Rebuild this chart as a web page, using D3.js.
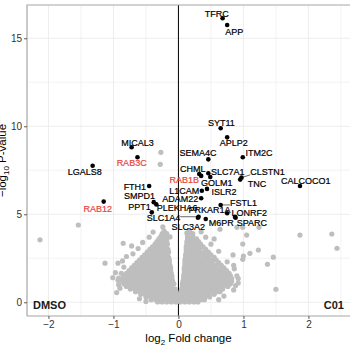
<!DOCTYPE html>
<html><head><meta charset="utf-8">
<script src="https://cdn.jsdelivr.net/npm/d3@7"></script>
<style>body{margin:0;background:#fff}svg{display:block}text{font-family:"Liberation Sans",Arial,sans-serif}</style>
</head><body><svg id="c" width="350" height="350"></svg>
<script>
// ---- data ----
const genes = ["TFRC","APP","SYT11","APLP2","ITM2C","SEMA4C","MICAL3","RAB3C","LGALS8","CHML","SLC7A1","GOLM1","RAB1B","CLSTN1","TNC","CALCOCO1","FTH1","L1CAM","ISLR2","ADAM22","RAB12","SMPD1","PLEKHA6","PPT1","FSTL1","PRKAR1A","LONRF2","SPARC","SLC1A4","M6PR","SLC3A2"];
const log2FC = [0.68,0.75,0.65,0.75,0.99,0.46,-0.72,-0.63,-1.32,0.32,0.46,0.49,0.35,0.97,0.95,1.87,-0.45,0.36,0.44,0.35,-1.15,-0.38,-0.34,-0.41,0.65,0.75,0.87,0.88,0.31,0.42,0.30];
const negLog10P = [16.14,15.75,9.89,9.37,8.24,8.12,8.81,8.24,7.76,7.29,7.33,7.12,7.18,7.08,6.97,6.61,6.61,6.34,6.44,5.91,5.72,5.69,5.56,5.11,5.53,5.06,4.85,4.80,4.86,4.73,4.80];
const highlighted = ["RAB3C","RAB12","RAB1B"];
// label anchor positions (data units, as placed by the repel layout)
const labelX = [0.59,0.86,0.66,0.85,1.24,0.30,-0.63,-0.72,-1.44,0.22,0.76,0.59,0.09,1.37,1.21,1.96,-0.67,0.09,0.70,0.03,-1.24,-0.60,-0.02,-0.60,1.00,0.48,1.09,1.13,-0.23,0.66,0.15];
const labelY = [16.38,15.39,10.17,9.03,8.50,8.47,9.07,7.90,7.39,7.57,7.42,6.80,6.95,7.42,6.70,6.91,6.57,6.34,6.25,5.85,5.32,6.04,5.34,5.40,5.66,5.24,5.09,4.49,4.82,4.49,4.31];
const xTicks = [-2,-1,0,1,2];
const yTicks = [0,5,10,15];
const conditions = ["DMSO","C01"];
// non-significant proteins: dense body of the volcano, one row of log2FC values per -log10 P level
const cloudY = [0.02,0.15,0.3,0.45,0.6,0.75,0.9,1.05,1.2,1.35,1.5,1.65,1.8,1.95,2.1,2.25,2.4,2.55,2.7,2.85,3.0,3.15,3.3,3.45,3.6,3.75,3.9,4.05];
const cloudX = [
 [-0.32,-0.25,-0.18,-0.11,-0.04,0.03,0.10,0.17,0.24,0.30],
 [-0.42,-0.35,-0.28,-0.21,-0.14,-0.07,0.00,0.07,0.14,0.21,0.28,0.35,0.40],
 [-0.50,-0.43,-0.36,-0.29,-0.22,-0.15,-0.08,-0.01,0.06,0.13,0.20,0.27,0.34,0.41,0.48],
 [-0.58,-0.51,-0.44,-0.37,-0.30,-0.23,-0.16,-0.09,-0.02,0.05,0.12,0.19,0.26,0.33,0.40,0.47,0.55],
 [-0.66,-0.59,-0.52,-0.45,-0.38,-0.31,-0.24,-0.17,-0.10,-0.04,0.04,0.10,0.17,0.24,0.31,0.38,0.45,0.52,0.59,0.64],
 [-0.74,-0.67,-0.60,-0.53,-0.46,-0.39,-0.32,-0.25,-0.18,-0.11,-0.05,0.05,0.12,0.19,0.26,0.33,0.40,0.47,0.54,0.61,0.68],
 [-0.80,-0.73,-0.66,-0.59,-0.52,-0.45,-0.38,-0.31,-0.24,-0.17,-0.10,0.06,0.13,0.20,0.27,0.34,0.41,0.48,0.55,0.62,0.69,0.76],
 [-0.84,-0.77,-0.70,-0.63,-0.56,-0.49,-0.42,-0.35,-0.28,-0.21,-0.14,-0.07,0.06,0.13,0.20,0.27,0.34,0.41,0.48,0.55,0.62,0.69,0.76,0.80],
 [-0.86,-0.79,-0.72,-0.65,-0.58,-0.51,-0.44,-0.37,-0.30,-0.23,-0.16,-0.09,0.07,0.14,0.21,0.28,0.35,0.42,0.49,0.56,0.63,0.70,0.77,0.82],
 [-0.86,-0.79,-0.72,-0.65,-0.58,-0.51,-0.44,-0.37,-0.30,-0.23,-0.16,-0.10,0.08,0.15,0.22,0.29,0.36,0.43,0.50,0.57,0.64,0.71,0.78,0.82],
 [-0.84,-0.77,-0.70,-0.63,-0.56,-0.49,-0.42,-0.35,-0.28,-0.21,-0.15,-0.10,0.08,0.14,0.21,0.28,0.35,0.42,0.49,0.56,0.63,0.70,0.77,0.80],
 [-0.80,-0.73,-0.66,-0.59,-0.52,-0.45,-0.38,-0.31,-0.24,-0.17,-0.11,0.09,0.16,0.23,0.30,0.37,0.44,0.51,0.58,0.65,0.72,0.78],
 [-0.76,-0.69,-0.62,-0.55,-0.48,-0.41,-0.34,-0.27,-0.20,-0.12,0.09,0.15,0.22,0.29,0.36,0.43,0.50,0.57,0.64,0.70,0.74],
 [-0.72,-0.65,-0.58,-0.51,-0.44,-0.37,-0.30,-0.23,-0.17,-0.12,0.09,0.16,0.23,0.30,0.37,0.44,0.51,0.58,0.65,0.70],
 [-0.68,-0.61,-0.54,-0.47,-0.40,-0.33,-0.26,-0.19,-0.13,0.10,0.16,0.23,0.30,0.37,0.44,0.51,0.58,0.66],
 [-0.64,-0.57,-0.50,-0.43,-0.36,-0.29,-0.22,-0.14,0.10,0.17,0.24,0.31,0.38,0.45,0.52,0.62],
 [-0.60,-0.53,-0.46,-0.39,-0.32,-0.25,-0.18,-0.14,0.10,0.17,0.24,0.31,0.38,0.45,0.52,0.58],
 [-0.56,-0.49,-0.42,-0.35,-0.28,-0.21,-0.15,0.11,0.18,0.25,0.32,0.39,0.46,0.55],
 [-0.52,-0.45,-0.38,-0.31,-0.24,-0.17,0.11,0.18,0.25,0.32,0.39,0.46,0.50],
 [-0.48,-0.41,-0.34,-0.27,-0.20,-0.15,0.12,0.19,0.26,0.33,0.40,0.46],
 [-0.44,-0.37,-0.30,-0.23,-0.16,0.12,0.19,0.26,0.33,0.42],
 [-0.40,-0.33,-0.26,-0.19,0.12,0.19,0.26,0.33,0.38],
 [-0.36,-0.29,-0.22,-0.17,0.13,0.20,0.27,0.34],
 [-0.33,-0.26,-0.18,0.13,0.20,0.27,0.31],
 [-0.30,-0.23,-0.18,0.14,0.21,0.28],
 [-0.27,-0.19,0.14,0.22],
 [-0.25,-0.18,0.15,0.22],
 [-0.22,0.17]
];
// scattered non-significant proteins outside the dense body
const scatterPoints = [
 [-0.39,3.99],[-0.24,4.28],[-0.13,3.71],[0.13,3.94],[0.64,4.15],[0.90,4.26],[0.99,4.26],[1.24,4.26],
 [1.05,3.82],[1.87,3.82],[2.36,3.88],[2.44,3.07],[1.00,2.63],[1.10,2.78],[1.46,2.56],[1.37,2.16],[1.50,0.74],
 [0.99,3.31],[1.23,2.97],[0.99,2.44],[0.84,2.69],[0.75,2.30],[0.86,1.90],[0.90,1.50],[0.92,1.10],[0.85,0.70],
 [-2.13,3.55],[-1.54,4.39],[-1.13,2.22],[-0.93,2.22],[-0.97,1.68],[-1.01,1.40],[-0.92,1.38],[-0.27,8.52],[-0.28,7.84],
 [-0.85,3.35],[-0.72,3.20],[-0.62,3.05],[-0.80,2.60],[-0.84,2.00],[-0.92,1.00],
 [-0.95,0.55],[-0.90,0.80],[-0.93,1.25],[-0.88,1.65],[-0.86,2.35],[-0.70,2.75],[-0.55,3.40],[-0.45,3.70],[-0.60,0.20],[-0.50,0.05],
 [0.70,0.35],[0.62,0.15],[0.88,0.95],[0.92,1.35],[0.85,2.10],[0.62,2.90],[0.50,3.30],[0.42,3.70],[0.35,4.00],[0.55,3.60]
];

// ---- chart ----
const svg = d3.select("#c");
const x = d3.scaleLinear().domain([-2.33, 2.64]).range([27, 350]);
const y = d3.scaleLinear().domain([-0.78, 16.89]).range([316, 5]);
const [x0, x1] = x.range(), [y0, y1] = y.range();

const grid = svg.append("g");
const xMinor = [-1.5,-0.5,0.5,1.5,2.5], yMinor = [2.5,7.5,12.5];
grid.selectAll(".vx").data(xTicks.concat(xMinor)).join("line")
  .attr("x1", d => x(d)).attr("x2", d => x(d)).attr("y1", y0).attr("y2", y1)
  .attr("stroke", "#ebebeb").attr("stroke-width", d => xTicks.includes(d) ? 0.9 : 0.6);
grid.selectAll(".hy").data(yTicks.concat(yMinor)).join("line")
  .attr("y1", d => y(d)).attr("y2", d => y(d)).attr("x1", x0).attr("x2", x1)
  .attr("stroke", "#ebebeb").attr("stroke-width", d => yTicks.includes(d) ? 0.9 : 0.6);

// zero line
svg.append("line").attr("x1", x(0)).attr("x2", x(0)).attr("y1", y0).attr("y2", y1)
  .attr("stroke", "#000").attr("stroke-width", 1);

// background points
const grayPoints = cloudX.flatMap((row, i) => row.map(v => [v, cloudY[i]])).concat(scatterPoints);
svg.append("g").selectAll("circle").data(grayPoints).join("circle")
  .attr("cx", d => x(d[0])).attr("cy", d => y(d[1])).attr("r", 2.6).attr("fill", "#bebebe");

// labelled points
const rows = genes.map((g, i) => ({g, fc: log2FC[i], p: negLog10P[i], lx: labelX[i], ly: labelY[i], red: highlighted.includes(g)}));
const segG = svg.append("g");
svg.append("g").selectAll("circle").data(rows).join("circle")
  .attr("cx", d => x(d.fc)).attr("cy", d => y(d.p)).attr("r", 2.3).attr("fill", "#000");
const labs = svg.append("g").selectAll("text").data(rows).join("text")
  .attr("x", d => x(d.lx)).attr("y", d => y(d.ly)).attr("dy", "0.35em")
  .attr("text-anchor", "middle").attr("font-size", 9)
  .attr("fill", d => d.red ? "#e8433a" : "#000")
  .attr("stroke", d => d.red ? "#e8433a" : "#000").attr("stroke-width", 0.2)
  .text(d => d.g);
labs.each(function(d) {
  const b = this.getBBox();
  const px = x(d.fc), py = y(d.p);
  const cx = Math.max(b.x, Math.min(px, b.x + b.width));
  const cy = Math.max(b.y + 2, Math.min(py, b.y + b.height - 2));
  const dist = Math.hypot(px - cx, py - cy);
  if (dist > 9) segG.append("line").attr("x1", px).attr("y1", py).attr("x2", cx).attr("y2", cy)
    .attr("stroke", "#000").attr("stroke-width", 0.6);
});

// panel border
svg.append("path").attr("d", `M${x0},${y0}V${y1}H${x1}`).attr("fill", "none").attr("stroke", "#a6a6a6").attr("stroke-width", 1.2);
svg.append("line").attr("x1", x0).attr("x2", x1).attr("y1", y0).attr("y2", y0).attr("stroke", "#a6a6a6").attr("stroke-width", 1.2);

// axes
const xa = svg.append("g").attr("transform", `translate(0,${y0})`)
  .call(d3.axisBottom(x).tickValues(xTicks).tickSize(3).tickPadding(2).tickFormat(d => d < 0 ? "\u2212" + Math.abs(d) : d));
const ya = svg.append("g").attr("transform", `translate(${x0},0)`)
  .call(d3.axisLeft(y).tickValues(yTicks).tickSize(3).tickPadding(2));
[xa, ya].forEach(a => {
  a.select(".domain").remove();
  a.selectAll(".tick line").attr("stroke", "#333").attr("stroke-width", 0.8);
  a.selectAll(".tick text").attr("fill", "#333").attr("font-size", 10).attr("font-family", "Liberation Sans, Arial, sans-serif");
});

// axis titles
const xt = svg.append("text").attr("x", (x0 + x1) / 2).attr("y", 342).attr("text-anchor", "middle")
  .attr("font-size", 11.5).attr("fill", "#000");
xt.append("tspan").text("log");
xt.append("tspan").attr("font-size", 8).attr("dy", 3).text("2");
xt.append("tspan").attr("dy", -3).text(" Fold change");
const yt = svg.append("text").attr("transform", `translate(6,${(y0 + y1) / 2}) rotate(-90)`).attr("text-anchor", "middle")
  .attr("font-size", 11.5).attr("fill", "#000");
yt.append("tspan").text("\u2212log");
yt.append("tspan").attr("font-size", 8).attr("dy", 3).text("10");
yt.append("tspan").attr("dy", -3).text(" P-value");

// condition tags
svg.append("text").attr("x", 33).attr("y", 309).attr("font-size", 11).attr("font-weight", "bold").attr("fill", "#1a1a1a").text(conditions[0]);
svg.append("text").attr("x", 344).attr("y", 309).attr("text-anchor", "end").attr("font-size", 11).attr("font-weight", "bold").attr("fill", "#1a1a1a").text(conditions[1]);
</script></body></html>
